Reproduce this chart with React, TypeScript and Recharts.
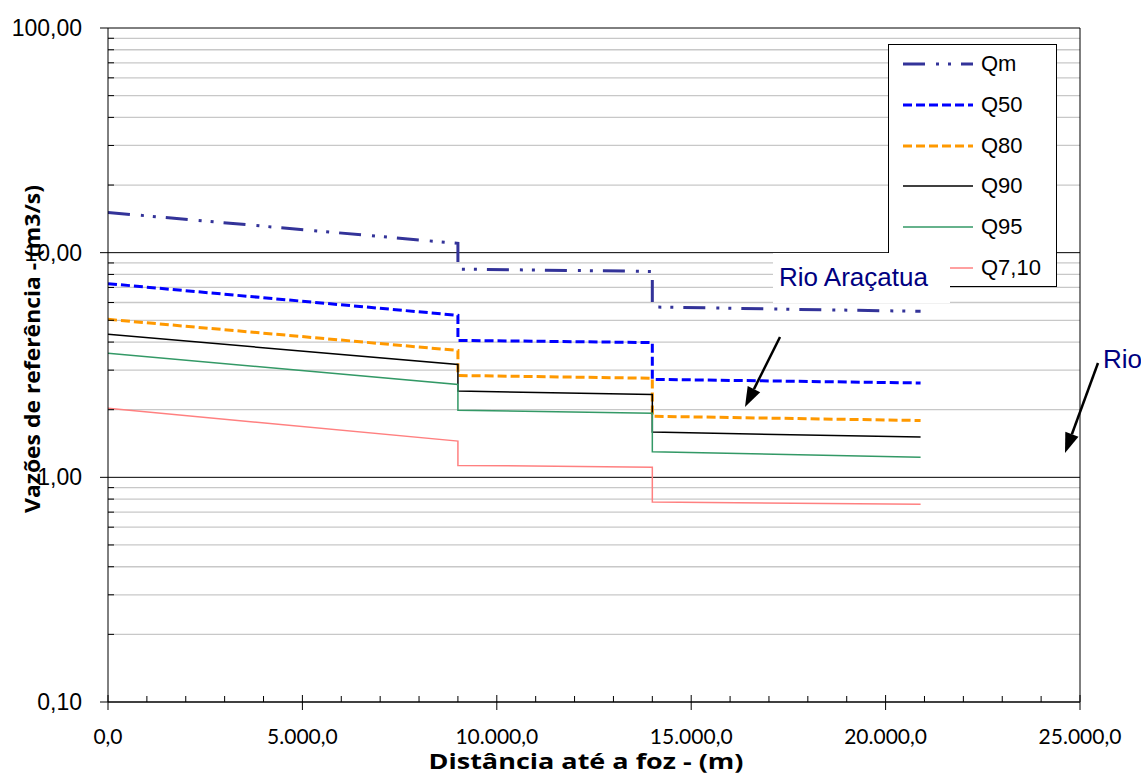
import React from 'react';
import { LineChart, Line, XAxis, YAxis, ReferenceLine, Legend } from 'recharts';

// ---- data ----
const DIST = [0, 9000, 9000, 14000, 14000, 20900];
const QM = [15.1, 11.0, 8.45, 8.25, 5.73, 5.48];
const Q50 = [7.28, 5.26, 4.07, 3.98, 2.73, 2.63];
const Q80 = [5.05, 3.67, 2.84, 2.76, 1.87, 1.79];
const Q90 = [4.33, 3.18, 2.42, 2.34, 1.59, 1.51];
const Q95 = [3.57, 2.59, 1.99, 1.93, 1.3, 1.23];
const Q710 = [2.03, 1.45, 1.13, 1.11, 0.776, 0.758];

const X_MAJOR = [0, 5000, 10000, 15000, 20000, 25000];
const X_LABELS = ['0,0', '5.000,0', '10.000,0', '15.000,0', '20.000,0', '25.000,0'];
const X_MINOR = [1000, 2000, 3000, 4000, 6000, 7000, 8000, 9000, 11000, 12000, 13000, 14000, 16000, 17000, 18000, 19000, 21000, 22000, 23000, 24000];

const Y_MAJOR = [0.1, 1, 10, 100];
const Y_LABELS = ['0,10', '1,00', '10,00', '100,00'];
const Y_MINOR = [0.2, 0.3, 0.4, 0.5, 0.6, 0.7, 0.8, 0.9, 2, 3, 4, 5, 6, 7, 8, 9, 20, 30, 40, 50, 60, 70, 80, 90];

const X_TITLE = 'Distância até a foz - (m)';
const Y_TITLE = 'Vazões de referência - (m3/s)';
const NOTE_1 = 'Rio Araçatua';
const NOTE_2 = 'Rio';

// ---- styles ----
const SERIES = [
  { key: 'Qm', name: 'Qm', values: QM, color: '#333399', width: 3, dash: '22 11 3 9 3 10' },
  { key: 'Q50', name: 'Q50', values: Q50, color: '#0000FF', width: 3, dash: '9 4' },
  { key: 'Q80', name: 'Q80', values: Q80, color: '#FF9900', width: 3, dash: '9 4' },
  { key: 'Q90', name: 'Q90', values: Q90, color: '#000000', width: 1.5, dash: undefined },
  { key: 'Q95', name: 'Q95', values: Q95, color: '#339966', width: 1.5, dash: undefined },
  { key: 'Q710', name: 'Q7,10', values: Q710, color: '#FF8080', width: 1.5, dash: undefined },
];

const rows = DIST.map((d, i) => {
  const r: any = { dist: d };
  SERIES.forEach((s) => (r[s.key] = s.values[i]));
  return r;
});

const Y_TICKS = [...Y_MAJOR, ...Y_MINOR].sort((a, b) => a - b);
const X_TICKS = [...X_MAJOR, ...X_MINOR].sort((a, b) => a - b);

const YTick = (props: any) => {
  const { x, y, payload } = props;
  const idx = Y_MAJOR.indexOf(payload.value);
  if (idx >= 0) {
    return (
      <g>
        <line x1={x - 8} x2={x} y1={y} y2={y} stroke="#000" strokeWidth={1} />
        <text x={x - 26} y={y} dy={8} textAnchor="end" fontSize={23} fontFamily="Liberation Sans, Arial" fill="#000">
          {Y_LABELS[idx]}
        </text>
      </g>
    );
  }
  return <line x1={x} x2={x + 6} y1={y} y2={y} stroke="#000" strokeWidth={1} />;
};

const XTick = (props: any) => {
  const { x, y, payload } = props;
  const idx = X_MAJOR.indexOf(payload.value);
  if (idx >= 0) {
    return (
      <g>
        <line x1={x} x2={x} y1={y - 7} y2={y + 8} stroke="#000" strokeWidth={1} />
        <text x={x} y={y + 42} textAnchor="middle" fontSize={21} fontFamily="Lato" fill="#000">
          {X_LABELS[idx]}
        </text>
      </g>
    );
  }
  return <line x1={x} x2={x} y1={y - 6} y2={y} stroke="#000" strokeWidth={1} />;
};

const LegendBox = () => (
  <div
    style={{
      width: 169,
      height: 243,
      border: '1px solid #000',
      background: '#fff',
      boxSizing: 'border-box',
      position: 'relative',
    }}
  >
    {SERIES.map((s, i) => (
      <div key={s.key} style={{ position: 'absolute', left: 0, top: 19 + i * 40.8 - 14, height: 28, display: 'flex', alignItems: 'center' }}>
        <svg width={85} height={28} style={{ display: 'block' }}>
          <line x1={14} x2={84} y1={14} y2={14} stroke={s.color} strokeWidth={s.width} strokeDasharray={s.dash} />
        </svg>
        <span style={{ fontFamily: 'Liberation Sans, Arial', fontSize: 22, marginLeft: 7, color: '#000', lineHeight: '28px' }}>{s.name}</span>
      </div>
    ))}
  </div>
);

const arrow = (x1: number, y1: number, x2: number, y2: number) => {
  const dx = x2 - x1;
  const dy = y2 - y1;
  const len = Math.sqrt(dx * dx + dy * dy);
  const ux = dx / len;
  const uy = dy / len;
  const hl = 20;
  const hw = 7;
  const bx = x2 - ux * hl;
  const by = y2 - uy * hl;
  const pts = `${x2},${y2} ${bx - uy * hw},${by + ux * hw} ${bx + uy * hw},${by - ux * hw}`;
  return (
    <g>
      <line x1={x1} y1={y1} x2={bx} y2={by} stroke="#000" strokeWidth={2.5} />
      <polygon points={pts} fill="#000" />
    </g>
  );
};

export default function App() {
  return (
    <div style={{ position: 'absolute', left: 0, top: 0, width: 1141, height: 774, background: '#fff' }}>
      <LineChart width={1141} height={774} data={rows} margin={{ top: 28, right: 61, bottom: 32, left: 48 }}>
        {Y_MINOR.map((v) => (
          <ReferenceLine key={'ym' + v} y={v} stroke="#c8c8c8" strokeWidth={1.3} />
        ))}
        <ReferenceLine y={1} stroke="#000" strokeWidth={1} />
        <ReferenceLine y={10} stroke="#000" strokeWidth={1} />
        <ReferenceLine y={100} stroke="#000" strokeWidth={1} />
        <ReferenceLine x={25000} stroke="#000" strokeWidth={1} />
        <XAxis
          dataKey="dist"
          type="number"
          domain={[0, 25000]}
          ticks={X_TICKS}
          interval={0}
          height={40}
          tickSize={0}
          tickMargin={0}
          tickLine={false}
          tick={<XTick />}
          axisLine={{ stroke: '#404040', strokeWidth: 2 }}
          allowDataOverflow
        />
        <YAxis
          type="number"
          scale="log"
          domain={[0.1, 100]}
          ticks={Y_TICKS}
          interval={0}
          width={60}
          tickSize={0}
          tickMargin={0}
          tickLine={false}
          tick={<YTick />}
          axisLine={{ stroke: '#000', strokeWidth: 1 }}
          allowDataOverflow
        />
        {SERIES.map((s) => (
          <Line
            key={s.key}
            dataKey={s.key}
            name={s.name}
            type="linear"
            stroke={s.color}
            strokeWidth={s.width}
            strokeDasharray={s.dash}
            dot={false}
            activeDot={false}
            isAnimationActive={false}
          />
        ))}
        <Legend
          layout="vertical"
          align="center"
          verticalAlign="middle"
          content={() => <LegendBox />}
          wrapperStyle={{ left: 888, top: 44, width: 169, height: 243 }}
        />
      </LineChart>
      <svg width={1141} height={774} style={{ position: 'absolute', left: 0, top: 0, pointerEvents: 'none' }}>
        <rect x={773} y={253} width={177} height={50} fill="#fff" />
        <text x={779} y={286} fontSize={26} fontFamily="Liberation Sans, Arial" fill="#000080">
          {NOTE_1}
        </text>
        <text x={1103} y={368} fontSize={26} fontFamily="Liberation Sans, Arial" fill="#000080">
          {NOTE_2}
        </text>
        {arrow(780, 337, 745, 407)}
        {arrow(1098, 363, 1065, 453)}
        <text
          x={586}
          y={769}
          textAnchor="middle"
          fontSize={21}
          fontWeight="bold"
          fontFamily="Open Sans"
          fill="#000"
          textLength={315}
          lengthAdjust="spacingAndGlyphs"
        >
          {X_TITLE}
        </text>
        <text
          x={0}
          y={0}
          transform="translate(40 349) rotate(-90)"
          textAnchor="middle"
          fontSize={22}
          fontWeight="bold"
          fontFamily="Open Sans"
          fill="#000"
          textLength={328}
          lengthAdjust="spacingAndGlyphs"
        >
          {Y_TITLE}
        </text>
      </svg>
    </div>
  );
}
